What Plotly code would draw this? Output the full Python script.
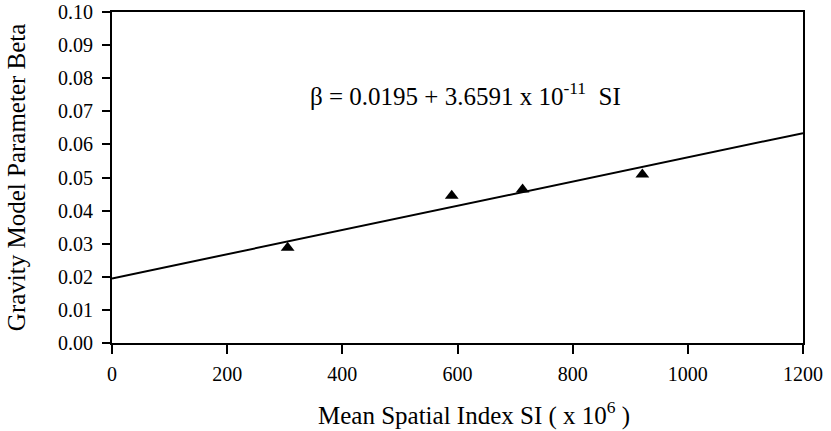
import plotly.graph_objects as go

# Data
si_values = [305, 590, 713, 921]          # Mean Spatial Index SI (x 10^6)
beta_values = [0.0288, 0.0445, 0.0464, 0.0509]
fit_x = [0, 1200]
intercept = 0.0195
slope = 3.6591e-5                          # per unit of SI (x 10^6)
fit_y = [intercept + slope * v for v in fit_x]

x_ticks = [0, 200, 400, 600, 800, 1000, 1200]
y_ticks = [0.00, 0.01, 0.02, 0.03, 0.04, 0.05, 0.06, 0.07, 0.08, 0.09, 0.10]
y_tick_labels = [f"{v:.2f}" for v in y_ticks]

x_title = "Mean Spatial Index SI ( x 10<sup>6</sup> )"
y_title = "Gravity Model Parameter Beta"
equation = "β = 0.0195 + 3.6591 x 10<sup>-11</sup>  SI"

FONT = "Liberation Serif"

fig = go.Figure()
fig.add_trace(go.Scatter(x=fit_x, y=fit_y, mode="lines",
                         line=dict(color="black", width=2), showlegend=False))
fig.add_trace(go.Scatter(x=si_values, y=beta_values, mode="markers",
                         marker=dict(symbol="triangle-up", size=12, color="black"),
                         showlegend=False))

fig.add_annotation(x=340, y=0.0752, xref="x", yref="y", xanchor="left", yanchor="middle",
                   text=equation, showarrow=False,
                   font=dict(family=FONT, size=25, color="black"))
fig.add_annotation(x=0.524, y=-0.2145, xref="paper", yref="paper",
                   xanchor="center", yanchor="middle", text=x_title, showarrow=False,
                   font=dict(family=FONT, size=25, color="black"))
fig.add_annotation(x=-0.138, y=0.5, xref="paper", yref="paper", textangle=-90,
                   xanchor="center", yanchor="middle", text=y_title, showarrow=False,
                   font=dict(family=FONT, size=25, color="black"))

fig.update_layout(
    width=831, height=431,
    margin=dict(l=112, r=28, t=12, b=88),
    paper_bgcolor="white", plot_bgcolor="white",
    font=dict(family=FONT, color="black", size=18),
)
fig.update_xaxes(range=[0, 1200], tickvals=x_ticks, ticks="outside", ticklen=9,
                 tickwidth=2, tickcolor="black", showline=True, linecolor="black",
                 linewidth=2, mirror=True, showgrid=False, zeroline=False,
                 automargin=False, ticklabelstandoff=3,
                 tickfont=dict(family=FONT, size=20))
fig.update_yaxes(range=[0, 0.10], tickvals=y_ticks, ticktext=y_tick_labels,
                 ticks="outside", ticklen=8, tickwidth=2, tickcolor="black",
                 showline=True, linecolor="black", linewidth=2, mirror=True,
                 showgrid=False, zeroline=False,
                 automargin=False, ticklabelstandoff=5,
                 tickfont=dict(family=FONT, size=20))

fig.write_html("out.html", config={"displayModeBar": False},
               post_script="document.body.style.margin='0';")
